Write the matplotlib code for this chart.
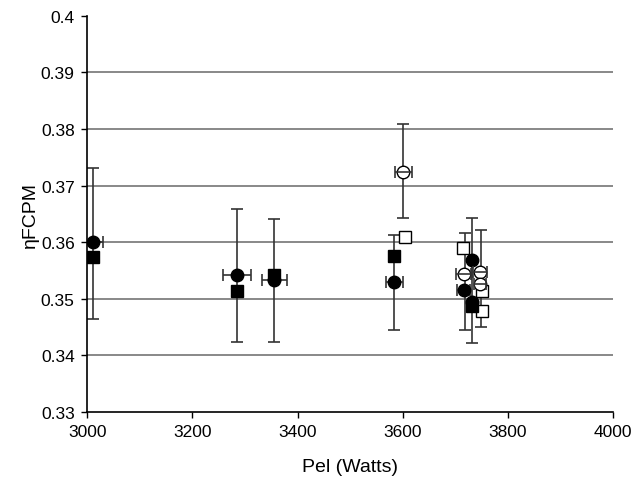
import numpy as np
import matplotlib
matplotlib.use("Agg")
import matplotlib.pyplot as plt

plt.rcParams['font.family'] = ['Liberation Sans', 'DejaVu Sans']

# filled circles (with horizontal error)
fc_w = [3011, 3285, 3356, 3584, 3716, 3731, 3731]
fc_eta = [0.3600, 0.3542, 0.3534, 0.3529, 0.3516, 0.3569, 0.3495]
fc_xerr = [20, 27, 24, 16, 12, 0, 0]

# filled squares
fs_w = [3011, 3285, 3356, 3584, 3731]
fs_eta = [0.3574, 0.3514, 0.3542, 0.3576, 0.3487]

# open circles (with horizontal error)
oc_w = [3601, 3716, 3747, 3747]
oc_eta = [0.3724, 0.3544, 0.3547, 0.3526]
oc_xerr = [16, 14, 14, 12]

# open squares
os_w = [3604, 3715, 3750, 3750]
os_eta = [0.3610, 0.3590, 0.3513, 0.3479]

# vertical error bars (low / high)
eb_w = [3011, 3285, 3356, 3584, 3601, 3719, 3732, 3749]
eb_lo = [0.3464, 0.3424, 0.3424, 0.3444, 0.3642, 0.3445, 0.3422, 0.3451]
eb_hi = [0.3731, 0.3658, 0.3641, 0.3613, 0.3809, 0.3616, 0.3643, 0.3622]

fig = plt.figure(figsize=(6.36, 4.81), dpi=100)
ax = fig.add_axes([0.137, 0.1414, 0.827, 0.8236])

yticks = np.round(np.arange(0.33, 0.4001, 0.01), 2)
for t in yticks[1:-1]:
    ax.axhline(t, color='#7f7f7f', lw=1.3, zorder=1)

ebc = '#333333'
eb_lo = np.array(eb_lo)
eb_hi = np.array(eb_hi)
ax.errorbar(eb_w, (eb_lo + eb_hi) / 2, yerr=(eb_hi - eb_lo) / 2, fmt='none',
            ecolor=ebc, elinewidth=1.2, capsize=4, capthick=1.2, zorder=2)

ax.errorbar(fc_w, fc_eta, xerr=fc_xerr, fmt='none', ecolor=ebc,
            elinewidth=1.2, capsize=4, capthick=1.2, zorder=2)
ax.errorbar(oc_w, oc_eta, xerr=oc_xerr, fmt='none', ecolor=ebc,
            elinewidth=1.2, capsize=4, capthick=1.2, zorder=4)

ax.plot(os_w, os_eta, 's', ms=8.5, mfc='white', mec='black', mew=1, ls='none', zorder=3)
ax.plot(fs_w, fs_eta, 's', ms=8.5, mfc='black', mec='black', ls='none', zorder=3)
ax.plot(fc_w, fc_eta, 'o', ms=9, mfc='black', mec='black', ls='none', zorder=3)
ax.plot(oc_w, oc_eta, 'o', ms=9, mfc='white', mec='black', mew=1, ls='none', zorder=3)

ax.set_xlim(3000, 4000)
ax.set_ylim(0.33, 0.40)
ax.set_xticks([3000, 3200, 3400, 3600, 3800, 4000])
ax.set_yticks(yticks)
ax.set_yticklabels([f"{t:g}" for t in yticks])

for s in ['top', 'right']:
    ax.spines[s].set_visible(False)
for s in ['left', 'bottom']:
    ax.spines[s].set_color('black')
    ax.spines[s].set_linewidth(1.2)

ax.tick_params(axis='both', direction='out', length=4, width=1, labelsize=12.5,
               colors='black', pad=5)
ax.set_xlabel('Pel (Watts)', fontsize=14, labelpad=13)
ax.set_ylabel('ηFCPM', fontsize=14, labelpad=1)

fig.savefig('out.png', dpi=100)
